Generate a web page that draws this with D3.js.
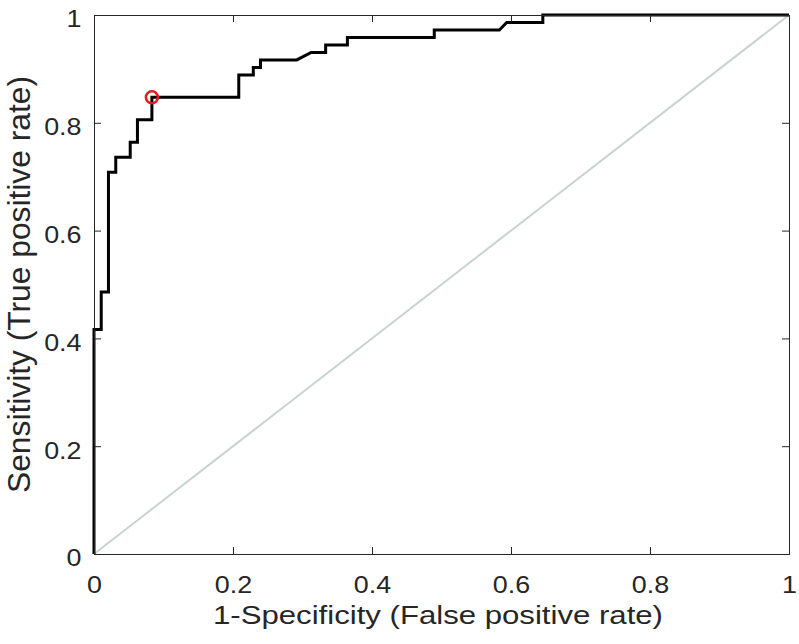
<!DOCTYPE html>
<html><head><meta charset="utf-8">
<script src="https://cdn.jsdelivr.net/npm/d3@7"></script>
<style>body{margin:0;background:#fff;} text{font-family:"Liberation Sans",Arial,sans-serif;fill:#262626;}</style>
</head><body><svg id="c" width="799" height="644"></svg>
<script>
const fpr = [0,0,0.0104,0.0104,0.0208,0.0208,0.0313,0.0313,0.0521,0.0521,0.0625,0.0625,0.0833,0.0833,0.2083,0.2083,0.2292,0.2292,0.2396,0.2396,0.2917,0.3125,0.3333,0.3333,0.3646,0.3646,0.4896,0.4896,0.5833,0.5938,0.6458,0.6458,1];
const tpr = [0,0.4167,0.4167,0.4861,0.4861,0.7083,0.7083,0.7361,0.7361,0.7639,0.7639,0.8056,0.8056,0.8472,0.8472,0.8889,0.8889,0.9028,0.9028,0.9167,0.9167,0.9306,0.9306,0.9444,0.9444,0.9583,0.9583,0.9722,0.9722,0.9861,0.9861,1,1];
const diagX = [0,1], diagY = [0,1];
const optPoint = [0.0833, 0.8472];
const xTicks = [0,0.2,0.4,0.6,0.8,1];
const yTicks = [0,0.2,0.4,0.6,0.8,1];
const xLabel = "1-Specificity (False positive rate)";
const yLabel = "Sensitivity (True positive rate)";

const L=94,R=789,T=15,B=554;
const svg=d3.select("#c");
const x=d3.scaleLinear().domain([0,1]).range([L,R]);
const y=d3.scaleLinear().domain([0,1]).range([B,T]);
const fmt=d=>d===0?"0":d===1?"1":String(d);
const stretch=1.12;

// diagonal
svg.append("line").attr("x1",x(diagX[0])).attr("y1",y(diagY[0])).attr("x2",x(diagX[1])).attr("y2",y(diagY[1]))
  .attr("stroke","#cbd2d2").attr("stroke-width",2);

// ROC
const pts=fpr.map((v,i)=>[v,tpr[i]]);
svg.append("path").attr("d",d3.line().x(d=>x(d[0])).y(d=>y(d[1]))(pts))
  .attr("fill","none").attr("stroke","#000").attr("stroke-width",3).attr("stroke-linejoin","miter");

svg.append("circle").attr("cx",x(optPoint[0])).attr("cy",y(optPoint[1])).attr("r",6)
  .attr("fill","none").attr("stroke","#e3191c").attr("stroke-width",2.5);

// axes (box, inward ticks)
const tl=-7;
const ax=svg.append("g").attr("transform",`translate(0,${B})`).call(d3.axisBottom(x).tickValues(xTicks).tickFormat(fmt).tickSize(tl));
const axT=svg.append("g").attr("transform",`translate(0,${T})`).call(d3.axisTop(x).tickValues(xTicks).tickFormat("").tickSize(tl));
const ay=svg.append("g").attr("transform",`translate(${L},0)`).call(d3.axisLeft(y).tickValues(yTicks).tickFormat(fmt).tickSize(tl));
const ayR=svg.append("g").attr("transform",`translate(${R},0)`).call(d3.axisRight(y).tickValues(yTicks).tickFormat("").tickSize(tl));
[ax,axT,ay,ayR].forEach(g=>{g.selectAll("path").attr("stroke","#262626").attr("stroke-width",1);
  g.selectAll("line").attr("stroke","#262626").attr("stroke-width",1);
  g.selectAll("text").style("font-size","24px").attr("font-family","Liberation Sans, Arial, sans-serif").attr("fill","#262626");});
ax.selectAll("text").attr("y",39).attr("dy",0);
ay.selectAll("text").attr("x",-12.5).attr("dy",0).attr("y",11.8);
[ax,ay].forEach(g=>g.selectAll("text").each(function(){
  const w=this.getComputedTextLength();
  d3.select(this).attr("textLength",w*stretch).attr("lengthAdjust","spacingAndGlyphs");
}));

svg.append("text").attr("x",438).attr("y",623.5).attr("text-anchor","middle").style("font-size","25.5px")
  .attr("textLength",450).attr("lengthAdjust","spacingAndGlyphs").text(xLabel);
svg.append("text").attr("transform",`translate(29.5,${(T+B)/2}) scale(1.05,1) rotate(-90)`).attr("text-anchor","middle")
  .style("font-size","30px").attr("textLength",417).attr("lengthAdjust","spacingAndGlyphs").text(yLabel);
</script></body></html>
